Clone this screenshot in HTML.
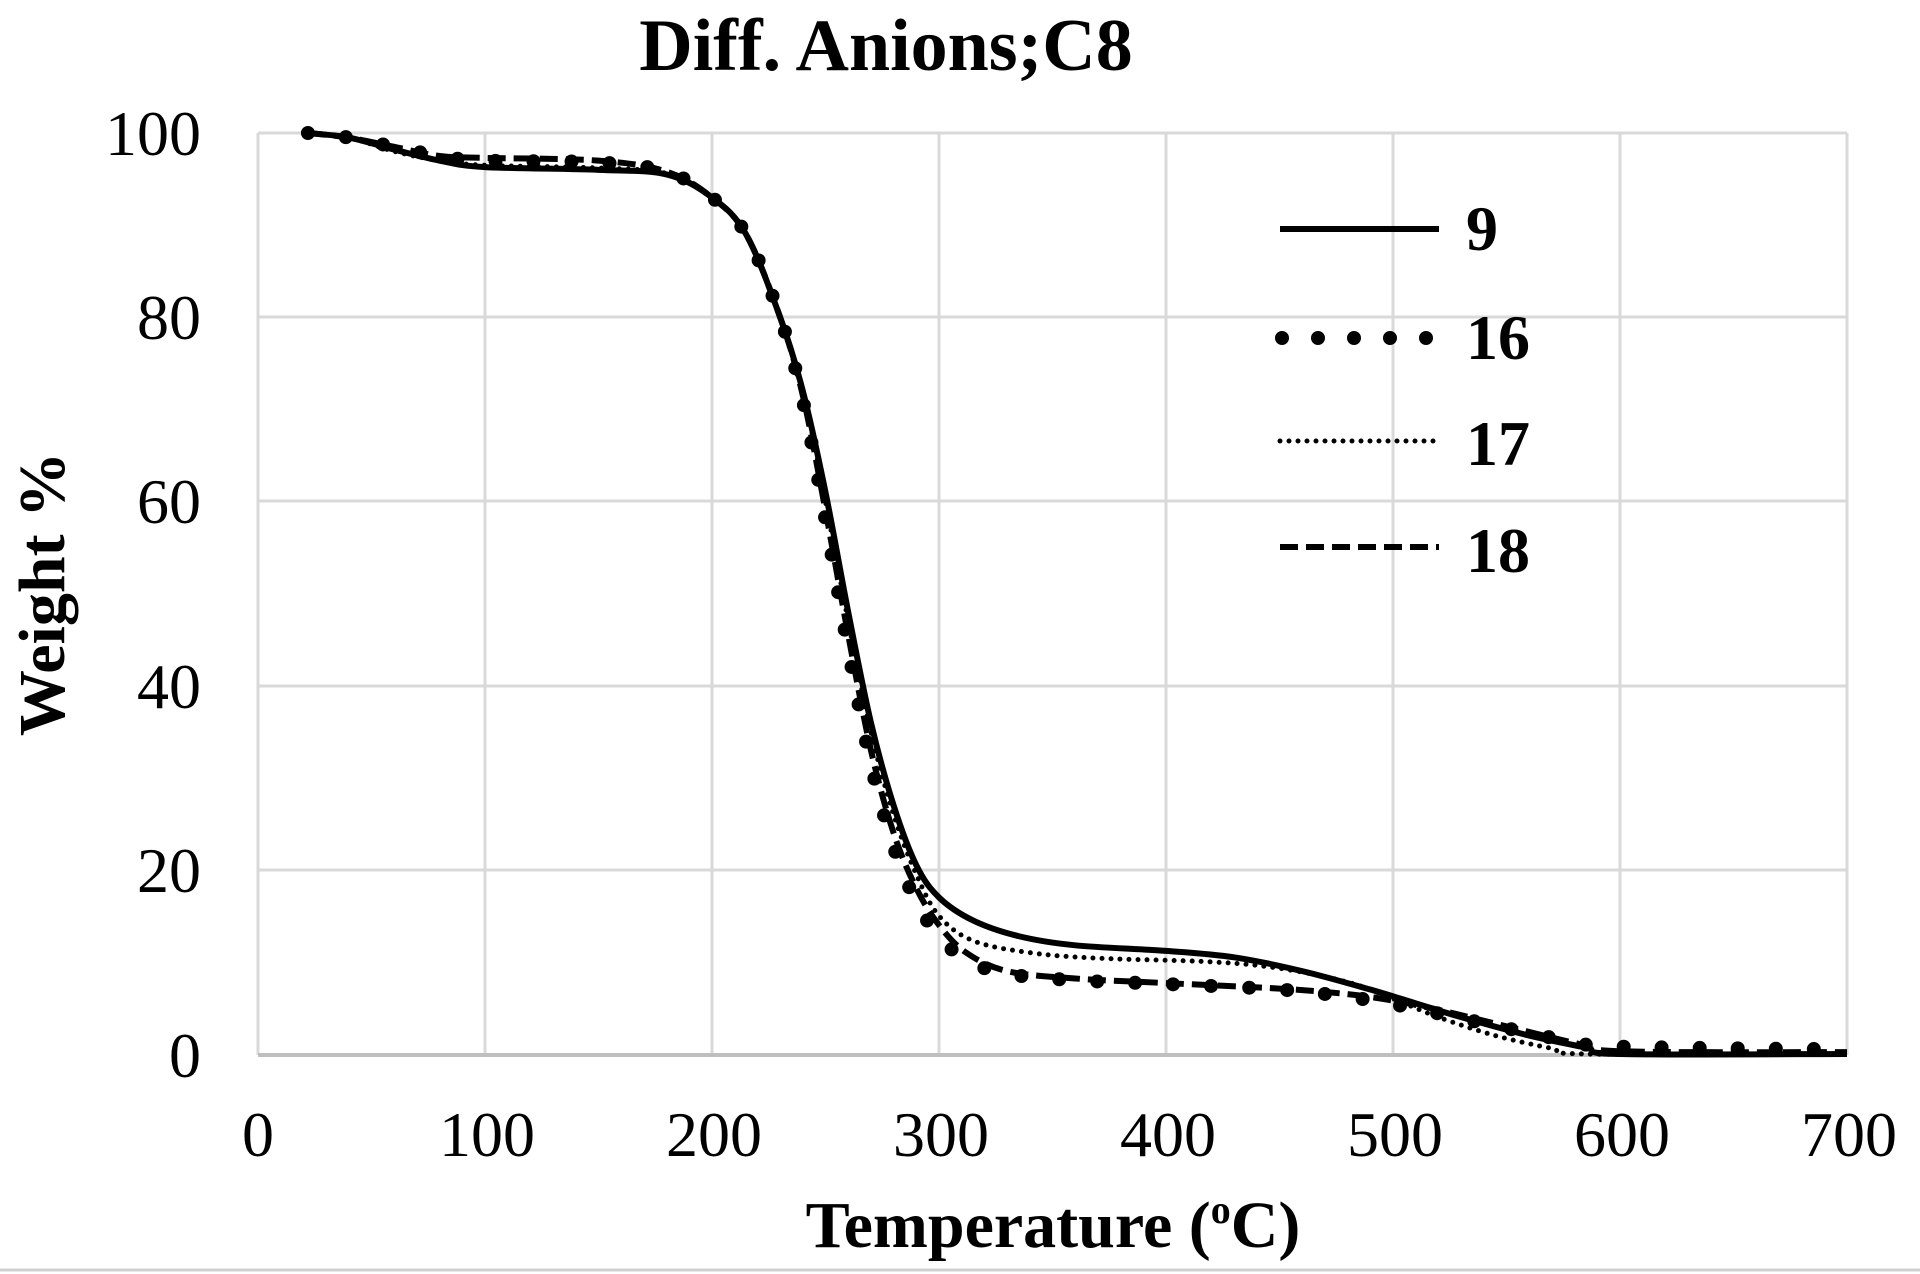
<!DOCTYPE html>
<html><head><meta charset="utf-8"><style>
html,body{margin:0;padding:0;background:#fff;}
svg{display:block;}
text{font-family:"Liberation Serif",serif;fill:#000;}
</style></head><body>
<svg id="s" width="1920" height="1274" viewBox="0 0 1920 1274" xmlns="http://www.w3.org/2000/svg">
<rect width="1920" height="1274" fill="#fff"/>
<g stroke="#d9d9d9" stroke-width="3">
<line x1="258" y1="133" x2="1847" y2="133"/>
<line x1="258" y1="317" x2="1847" y2="317"/>
<line x1="258" y1="501" x2="1847" y2="501"/>
<line x1="258" y1="686" x2="1847" y2="686"/>
<line x1="258" y1="870" x2="1847" y2="870"/>
<line x1="258" y1="133" x2="258" y2="1055"/>
<line x1="485" y1="133" x2="485" y2="1055"/>
<line x1="712" y1="133" x2="712" y2="1055"/>
<line x1="939" y1="133" x2="939" y2="1055"/>
<line x1="1166" y1="133" x2="1166" y2="1055"/>
<line x1="1393" y1="133" x2="1393" y2="1055"/>
<line x1="1620" y1="133" x2="1620" y2="1055"/>
<line x1="1847" y1="133" x2="1847" y2="1055"/>
</g>
<line x1="258" y1="1055" x2="1847" y2="1055" stroke="#bfbfbf" stroke-width="4"/>
<line x1="0" y1="1270" x2="1920" y2="1270" stroke="#d0d0d0" stroke-width="3"/>
<g font-size="64" text-anchor="end">
<text x="201" y="155">100</text><text x="201" y="339">80</text><text x="201" y="523">60</text>
<text x="201" y="708">40</text><text x="201" y="892">20</text><text x="201" y="1077">0</text>
</g>
<g font-size="64" text-anchor="middle">
<text x="258" y="1156">0</text><text x="487" y="1156">100</text><text x="714" y="1156">200</text>
<text x="941" y="1156">300</text><text x="1168" y="1156">400</text><text x="1395" y="1156">500</text>
<text x="1622" y="1156">600</text><text x="1849" y="1156">700</text>
</g>
<text x="886" y="70" font-size="74" font-weight="bold" text-anchor="middle">Diff. Anions;C8</text>
<text x="1053" y="1247" font-size="66" font-weight="bold" text-anchor="middle">Temperature (<tspan font-size="40" dy="-24">o</tspan><tspan dy="24">C)</tspan></text>
<text transform="translate(64,594) rotate(-90)" font-size="66" font-weight="bold" text-anchor="middle">Weight %</text>
<g id="curves" fill="none" stroke="#000"></g>
<g stroke="#000" fill="none">
<line x1="1280" y1="229" x2="1439" y2="229" stroke-width="6"/>
<line x1="1282" y1="338" x2="1439" y2="338" stroke-width="14" stroke-linecap="round" stroke-dasharray="0 36"/>
<line x1="1280" y1="441" x2="1439" y2="441" stroke-width="5" stroke-linecap="round" stroke-dasharray="0 9"/>
<line x1="1280" y1="547" x2="1439" y2="547" stroke-width="6" stroke-dasharray="18 8"/>
</g>
<g font-size="64" font-weight="bold">
<text x="1466" y="250">9</text><text x="1466" y="359">16</text>
<text x="1466" y="465">17</text><text x="1466" y="572">18</text>
</g>
</svg>
<script>
function X(t){return 258+t*2.27}function Y(w){return 1054-w*9.21}
function path(d){var p=d.map(function(a){return [X(a[0]),Y(a[1])]});var s="M"+p[0][0]+","+p[0][1];
for(var i=0;i<p.length-1;i++){var p0=p[i-1]||p[i],p1=p[i],p2=p[i+1],p3=p[i+2]||p2;
s+=" C"+(p1[0]+(p2[0]-p0[0])/6)+","+(p1[1]+(p2[1]-p0[1])/6)+" "+(p2[0]-(p3[0]-p1[0])/6)+","+(p2[1]-(p3[1]-p1[1])/6)+" "+p2[0]+","+p2[1];}return s;}
var d9=[[22,100],[40,99.5],[60,98.2],[80,97],[100,96.3],[150,96],[180,95.5],[200,93],[215,89],[230,80],[240,72],[250,61],[260,48],[270,36],[280,27],[290,20.5],[300,17],[315,14.5],[335,12.8],[360,11.8],[400,11.2],[430,10.5],[460,9],[490,7],[510,5.5],[530,4],[560,2],[585,0.7],[600,0],[700,0]];
var d17=[[22,100],[40,99.5],[60,98],[80,97],[100,96.5],[150,96.2],[180,95.6],[200,93],[215,89],[230,80],[240,72],[250,60],[260,47],[270,35],[280,26],[290,19.5],[300,15],[315,12.3],[340,11],[370,10.4],[420,10],[450,9.3],[480,7.8],[500,6],[520,4],[545,2],[570,0.6],[585,0],[700,0]];
var d16=[[22,100],[40,99.5],[60,98.5],[80,97.5],[100,97],[150,96.8],[180,95.8],[200,93],[215,89],[230,80],[240,71],[250,58],[260,44],[270,31.5],[280,22.5],[290,16.5],[300,12.8],[312,10.2],[330,8.7],[360,8],[400,7.6],[450,7],[480,6.2],[500,5.4],[520,4.4],[550,2.8],[580,1.3],[600,0.8],[700,0.5]];
var d18=[[22,100],[40,99.5],[60,98.5],[80,97.5],[100,97.3],[150,97],[180,95.8],[200,93],[215,89],[230,80],[240,71.5],[250,59],[260,45.5],[270,33],[280,24],[290,18],[300,14],[312,11],[330,9],[360,8.2],[400,7.7],[450,7.1],[480,6.5],[500,5.8],[520,4.8],[550,3],[580,1.2],[600,0.3],[700,0.2]];
var g=document.getElementById("curves"),ns="http://www.w3.org/2000/svg";
function add(d,attrs){var e=document.createElementNS(ns,"path");e.setAttribute("d",path(d));for(var k in attrs)e.setAttribute(k,attrs[k]);g.appendChild(e);}
add(d18,{"stroke-width":"6","stroke-dasharray":"18 8"});
add(d17,{"stroke-width":"5","stroke-linecap":"round","stroke-dasharray":"0 9"});
add(d9,{"stroke-width":"6"});
add(d16,{"stroke-width":"14","stroke-linecap":"round","stroke-dasharray":"0 38"});
</script>
</body></html>
